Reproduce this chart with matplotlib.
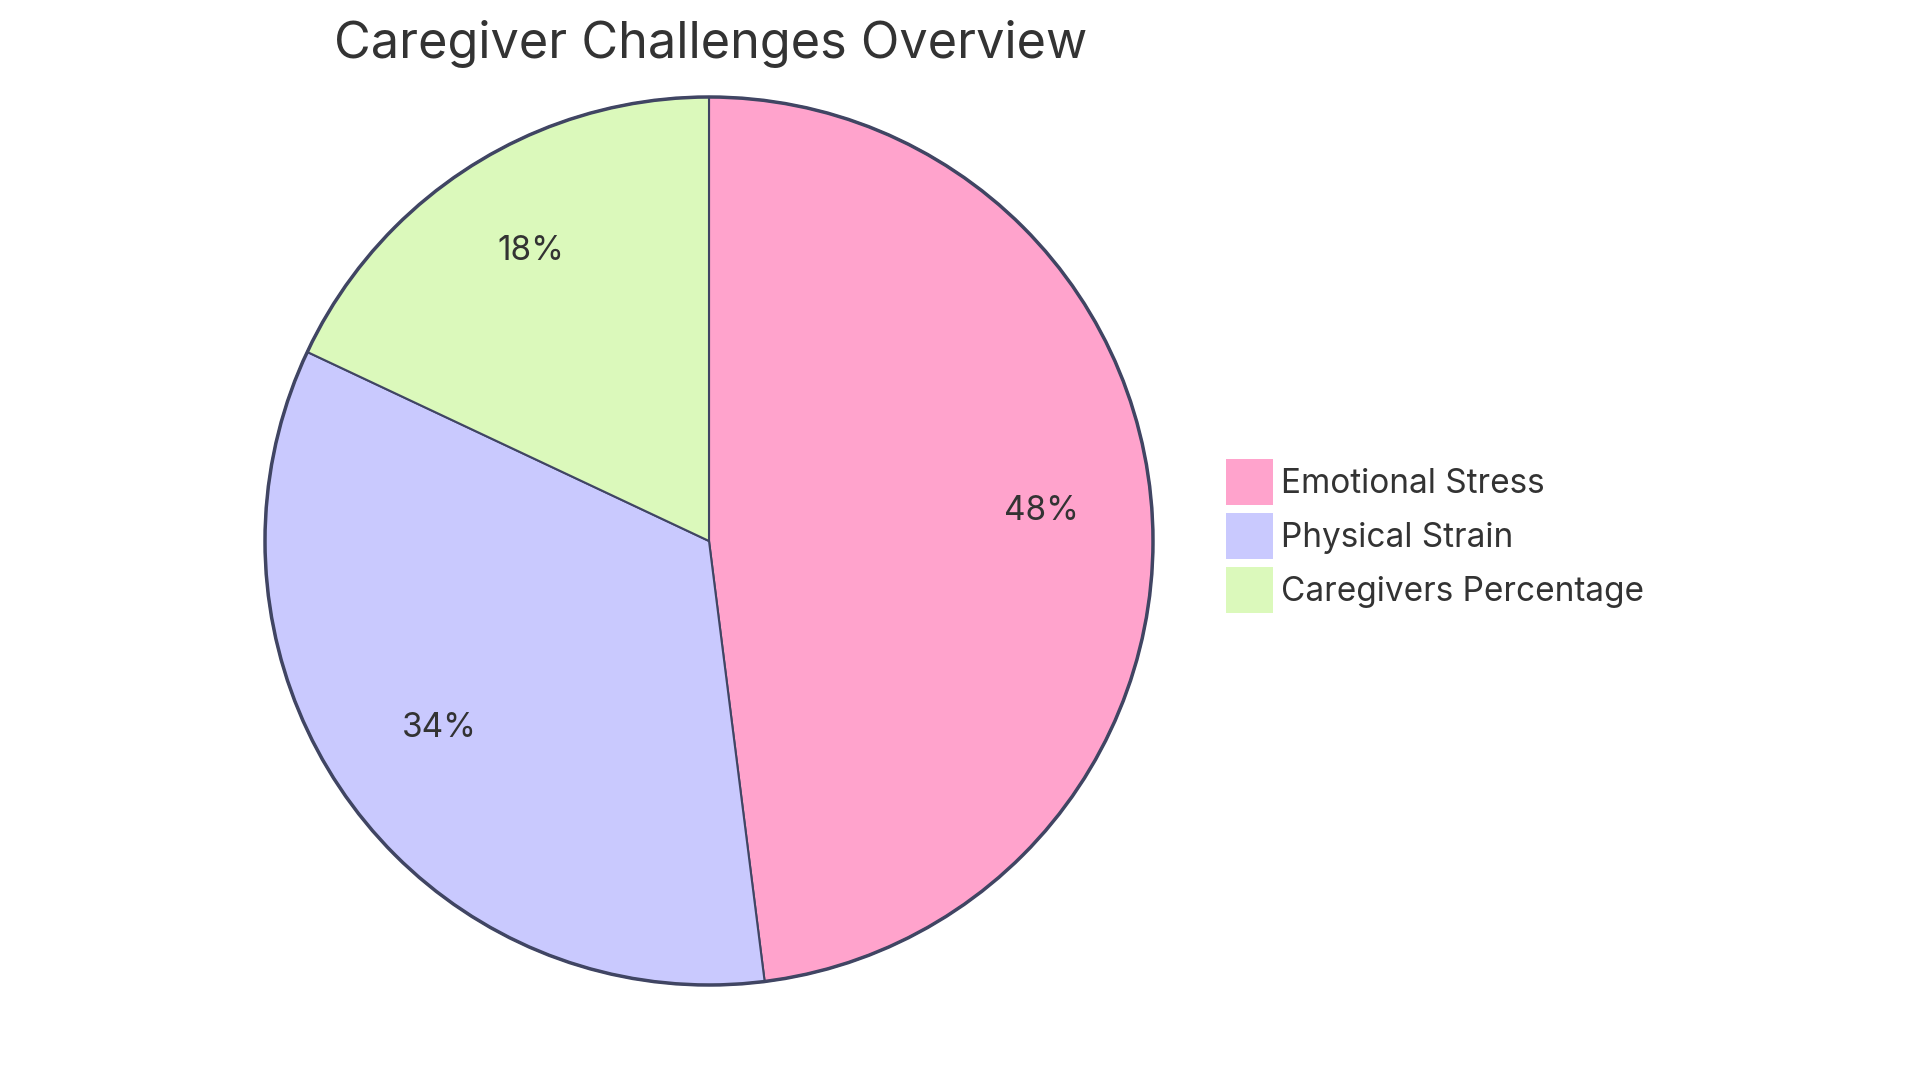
import matplotlib.pyplot as plt
import matplotlib.patches as mpatches

# data
labels = ["Emotional Stress", "Physical Strain", "Caregivers Percentage"]
values = [48, 34, 18]
colors = ["#FFA3CC", "#C9C9FE", "#DBF9BB"]

title = "Caregiver Challenges Overview"
edge = "#404563"
text_col = "#333333"

plt.rcParams['font.family'] = ['Inter', 'DejaVu Sans']

W, H = 1920, 1083
fig = plt.figure(figsize=(W / 100, H / 100), dpi=100)
ax = fig.add_axes([0, 0, 1, 1])

# pie (pixel coordinates, y up)
cx, cy, r = 709, H - 541, 444
wedges, texts, autotexts = ax.pie(
    values, colors=colors, startangle=90, counterclock=False,
    center=(cx, cy), radius=r, autopct="%1.0f%%", pctdistance=0.75,
    wedgeprops=dict(edgecolor=edge, linewidth=1.5),
    textprops=dict(fontsize=24, color=text_col),
)
for t in autotexts:
    t.set_va("baseline")

# thicker outer ring
ax.add_patch(mpatches.Circle((cx, cy), r, fill=False, edgecolor=edge, linewidth=2.5))

ax.set_xlim(0, W)
ax.set_ylim(0, H)
ax.set_aspect("equal")
ax.axis("off")

# title
fig.text(711 / W, 1 - 44 / H, title, ha="center", va="center",
         fontsize=36.3, color=text_col)

# legend
handles = [mpatches.Patch(facecolor=c, edgecolor="none") for c in colors]
fig.legend(handles, labels, loc="upper left",
           bbox_to_anchor=(1226 / W, 1 - 459 / H),
           frameon=False, fontsize=24, borderpad=0, borderaxespad=0,
           handlelength=1.4, handleheight=1.75, labelspacing=0.24,
           handletextpad=0.25, labelcolor=text_col)

fig.savefig("out.png", dpi=100)
